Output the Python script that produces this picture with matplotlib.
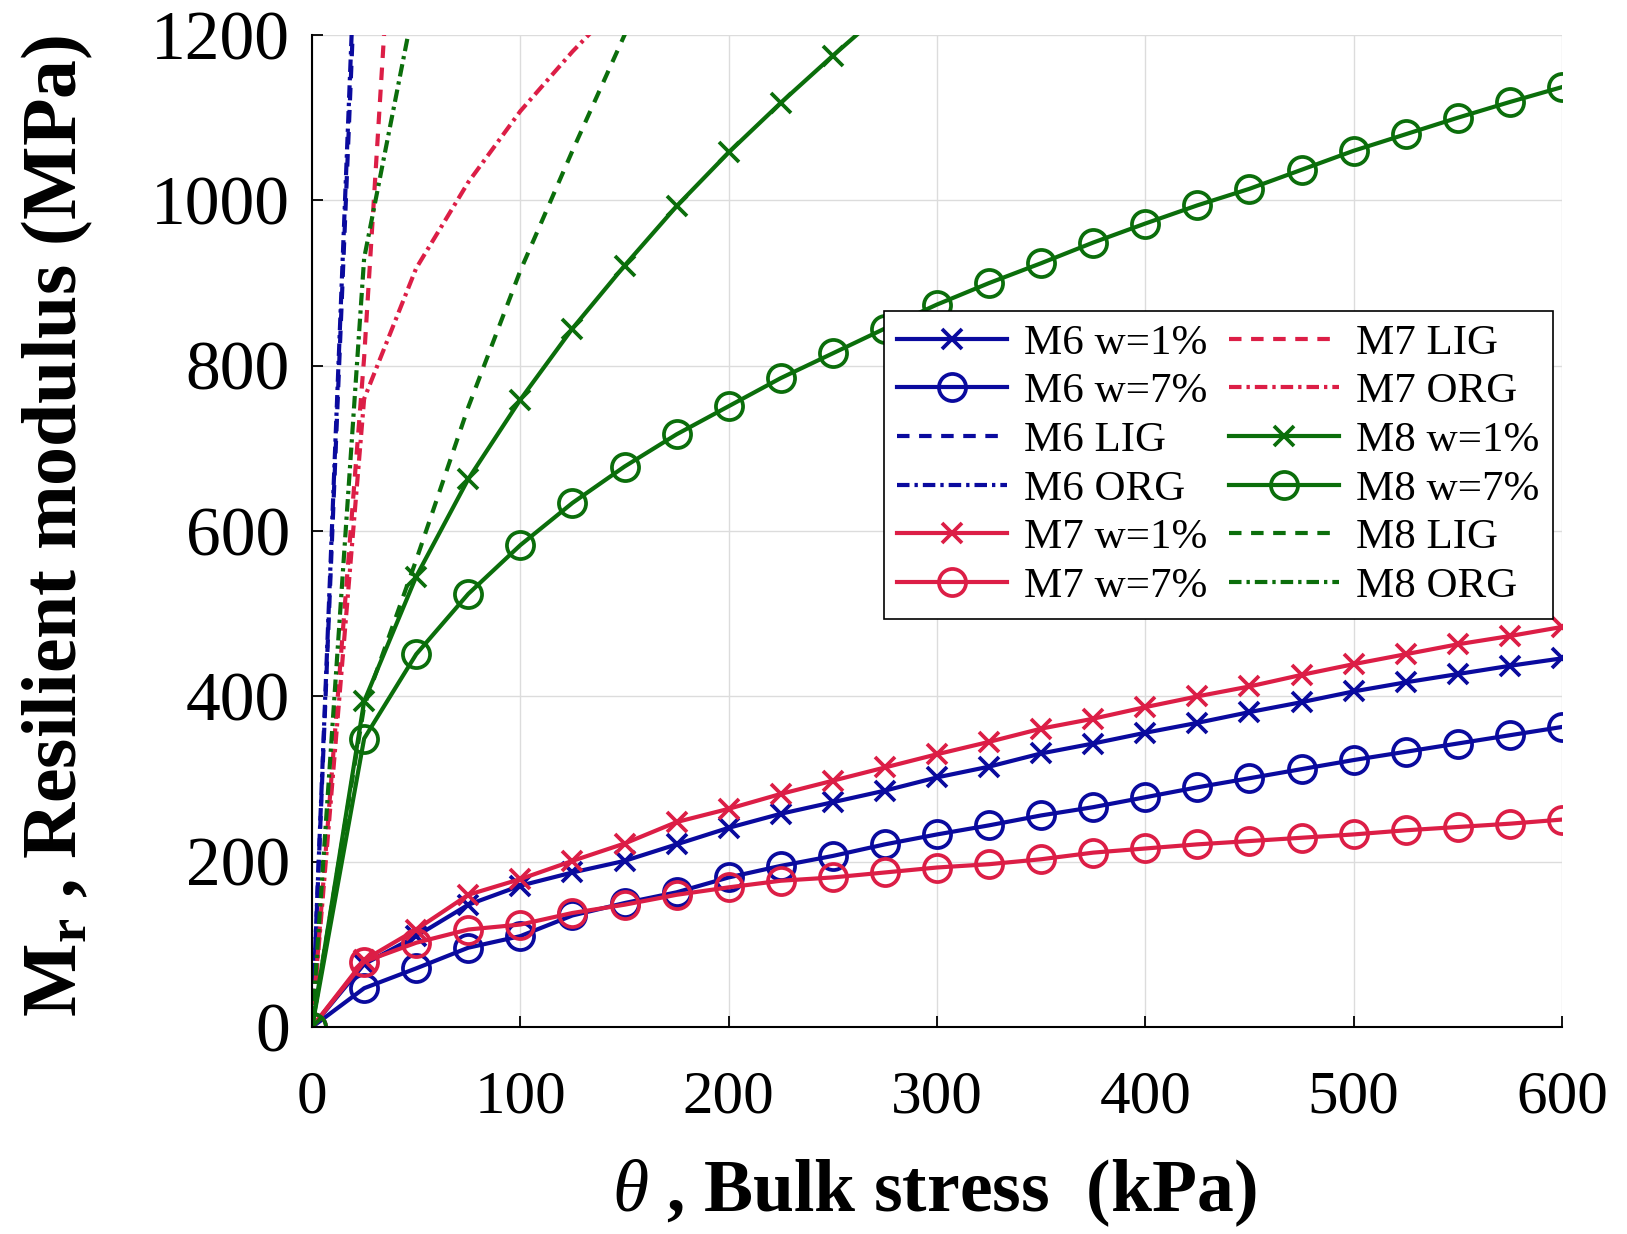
import matplotlib
matplotlib.use("Agg")
import matplotlib.pyplot as plt

plt.rcParams['font.family'] = ['Liberation Serif', 'DejaVu Serif']
plt.rcParams['mathtext.fontset'] = 'custom'
plt.rcParams['mathtext.rm'] = 'Liberation Serif'
plt.rcParams['mathtext.it'] = 'Liberation Serif:italic'
plt.rcParams['mathtext.bf'] = 'Liberation Serif:bold'

# bulk stress steps (kPa)
theta = [0, 25, 50, 75, 100, 125, 150, 175, 200, 225, 250, 275, 300,
         325, 350, 375, 400, 425, 450, 475, 500, 525, 550, 575, 600]

# resilient modulus (MPa)
m6_w1 = [0, 76, 110, 148, 171, 187, 201, 221, 241, 258, 272, 286, 302,
         315, 331, 343, 356, 368, 381, 393, 406, 417, 427, 437, 446]
m6_w7 = [0, 47, 71, 96, 110, 135, 150, 163, 181, 195, 207, 221, 233,
         244, 256, 266, 278, 290, 301, 312, 323, 333, 343, 353, 363]
m6_lig = [0, 1540]
m6_org = [0, 1580]

m7_w1 = [0, 81, 118, 160, 179, 201, 222, 248, 264, 282, 298, 314, 330,
         345, 361, 373, 387, 400, 412, 426, 439, 451, 463, 473, 484]
m7_w7 = [0, 79, 102, 118, 124, 138, 148, 160, 169, 177, 181, 187, 193,
         197, 203, 211, 216, 221, 225, 229, 233, 238, 242, 246, 251]
m7_lig = [0, 810, 1830]
m7_org = [0, 760, 918, 1022, 1108, 1180, 1245]

m8_w1 = [0, 394, 545, 663, 759, 845, 921, 993, 1058, 1118, 1175, 1230]
m8_w7 = [0, 349, 451, 524, 583, 634, 678, 717, 751, 785, 815, 845, 874,
         900, 924, 949, 972, 994, 1014, 1037, 1060, 1080, 1100, 1119, 1137]
m8_lig = [0, 388, 565, 750, 915, 1060, 1200, 1330]
m8_org = [0, 930, 1250]

blue = "#0A0A9E"
red = "#DC1E46"
green = "#0B6E0B"

dash = (0, (3.0, 2.3))
dashdot = (0, (3.0, 1.2, 0.8, 1.2))

series = [
    ("M6 w=1%", m6_w1, blue, "-", "x"),
    ("M6 w=7%", m6_w7, blue, "-", "o"),
    ("M6 LIG", m6_lig, blue, dash, None),
    ("M6 ORG", m6_org, blue, dashdot, None),
    ("M7 w=1%", m7_w1, red, "-", "x"),
    ("M7 w=7%", m7_w7, red, "-", "o"),
    ("M7 LIG", m7_lig, red, dash, None),
    ("M7 ORG", m7_org, red, dashdot, None),
    ("M8 w=1%", m8_w1, green, "-", "x"),
    ("M8 w=7%", m8_w7, green, "-", "o"),
    ("M8 LIG", m8_lig, green, dash, None),
    ("M8 ORG", m8_org, green, dashdot, None),
]

fig = plt.figure(figsize=(16.27, 12.34), dpi=100)
ax = fig.add_axes([0.1918, 0.1677, 0.960 - 0.1918, 0.9716 - 0.1677])

for label, vals, col, ls, mk in series:
    ms = 19.5 if mk == "o" else 15
    ax.plot(theta[:len(vals)], vals, color=col, linestyle=ls, lw=3.0,
            marker=mk, markersize=ms, markerfacecolor="none",
            markeredgewidth=2.7, label=label)

ax.set_xlim(0, 600)
ax.set_ylim(0, 1200)
ax.set_xticks(range(0, 601, 100))
ax.set_yticks(range(0, 1201, 200))
ax.grid(True, color="#DCDCDC", lw=1.0)
ax.set_axisbelow(True)
ax.spines['top'].set_visible(False)
ax.spines['right'].set_visible(False)
ax.spines['left'].set_linewidth(1.5)
ax.spines['bottom'].set_linewidth(1.5)
ax.tick_params(direction="in", length=8, width=1.3, labelsize=44)
ax.tick_params(axis="x", pad=31)
ax.tick_params(axis="y", pad=16, labelsize=50)

fig.text(0.035, 0.574, r"$\mathbf{M}_{\mathbf{r}}$ , Resilient modulus (MPa)",
         rotation=90, ha="center", va="center", fontsize=56, fontweight="bold")
fig.text(0.574, 0.033, r"$\theta$ , Bulk stress  (kPa)",
         ha="center", va="center", fontsize=53, fontweight="bold")

leg = ax.legend(ncol=2, loc="upper left", bbox_to_anchor=(0.458, 0.722),
                fontsize=31, frameon=True, fancybox=False, framealpha=1,
                edgecolor="black", handlelength=2.55, handletextpad=0.4,
                columnspacing=0.5, labelspacing=0.22, borderpad=0.3,
                borderaxespad=0)
leg.get_frame().set_linewidth(1.2)

fig.savefig("out.png", dpi=100)
